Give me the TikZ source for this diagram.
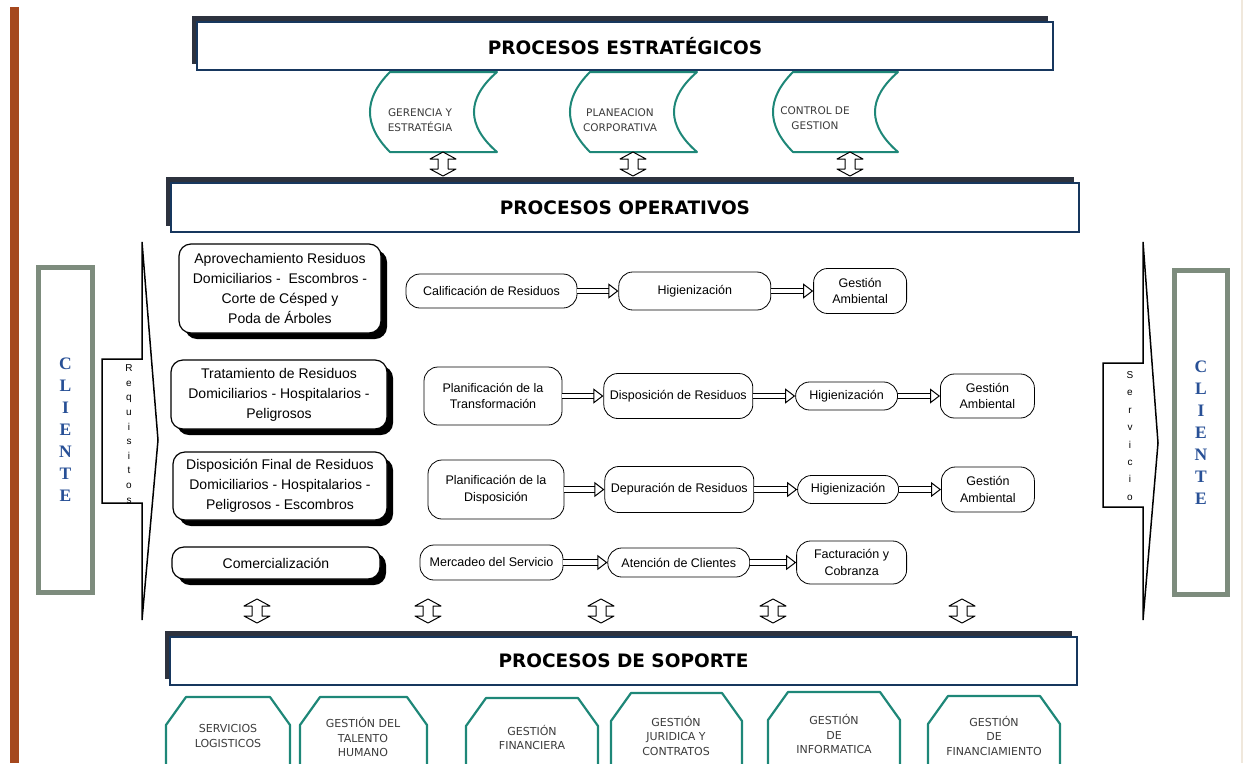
\documentclass[tikz,border=0pt]{standalone}
\usepackage{fontspec}
\setmainfont{Liberation Sans}
\newfontfamily\hdrfont{DejaVu Sans}
\newfontfamily\clifont{Liberation Serif}
\usepackage{tikz}
\usetikzlibrary{arrows.meta, positioning, shadows}
\definecolor{Rust}{RGB}{165,72,30}
\definecolor{Navy}{RGB}{23,55,94}
\definecolor{NavyShade}{RGB}{45,50,62}
\definecolor{Teal}{RGB}{30,135,120}
\definecolor{Sage}{RGB}{125,140,125}
\definecolor{CliBlue}{RGB}{40,80,150}
\definecolor{DarkText}{RGB}{60,60,60}
\definecolor{PageEdge}{RGB}{240,232,220}
\tikzset{%
  header_block/.style={%
    rectangle,%
    draw=Navy,%
    line width=1.6pt,%
    fill=white,%
    drop shadow={shadow xshift=-5pt, shadow yshift=6pt, fill=NavyShade, opacity=1},%
    font={\hdrfont\bfseries\fontsize{18.5}{21}\selectfont},%
  },
  lead_block/.style={%
    rectangle,%
    rounded corners=12pt,%
    draw=black,%
    line width=1.2pt,%
    fill=white,%
    drop shadow={shadow xshift=6pt, shadow yshift=-6pt, fill=black, opacity=1},%
    inner sep=2pt,%
    font={\fontsize{14}{20}\selectfont},%
    align=center,%
  },
  step_block/.style={%
    rectangle,%
    rounded corners=14pt,%
    draw=black,%
    line width=0.8pt,%
    fill=white,%
    inner sep=2pt,%
    font={\fontsize{12.5}{16.5}\selectfont},%
    align=center,%
  },
  flow_arrow/.style={%
    draw=black,%
    line width=1pt,%
    double=white,%
    double distance=4.2pt,%
    -{Triangle[open, length=10pt, width=15pt, line width=1pt]},%
  },
  strat_shape/.style={%
    draw=Teal,%
    line width=2pt,%
    fill=white,%
    line join=round,%
  },
  strat_text/.style={%
    text=DarkText,%
    font={\hdrfont\fontsize{10.5}{15}\selectfont},%
    align=center,%
  },
  sup_shape/.style={%
    draw=Teal,%
    line width=2.2pt,%
    line join=round,%
  },
  sup_text/.style={%
    text=DarkText,%
    font={\hdrfont\fontsize{11}{14.5}\selectfont},%
    align=center,%
  },
  client_frame/.style={%
    rectangle,%
    draw=Sage,%
    line width=5pt,%
    text=CliBlue,%
    font={\clifont\bfseries\fontsize{17.5}{22}\selectfont},%
    align=center,%
  },
  side_arrow/.style={%
    draw=black,%
    line width=1.5pt,%
    line join=miter,%
  },
  side_text/.style={%
    font={\fontsize{10}{14.6}\selectfont},%
    align=center,%
    inner sep=0pt,%
  },
  pics/updown/.style={%
    code={%
      \draw[line width=1pt, fill=white, line join=round]
        (0,-12) -- (13,-5) -- (5,-5) -- (5,5) -- (13,5) -- (0,12)
        -- (-13,5) -- (-5,5) -- (-5,-5) -- (-13,-5) -- cycle;
    }
  },
}

\begin{document}
\begin{tikzpicture}[x=1pt, y=-1pt]
    \useasboundingbox (0,0) rectangle (1246,763);
    \clip (0,0) rectangle (1246,763);

    % page edges
    \fill [Rust] (10,7) rectangle (19,763);
    \draw [PageEdge, line width=1.5pt] (1242,0) -- (1242,763);

    % headers
    \node [header_block, minimum width=856pt, minimum height=48pt] (Estrat) at (625,46) {PROCESOS ESTRATÉGICOS};
    \node [header_block, minimum width=908pt, minimum height=49pt] (Operat) at (625,207.5) {PROCESOS OPERATIVOS};
    \node [header_block, minimum width=907pt, minimum height=48pt] (Soporte) at (623.5,661) {PROCESOS DE SOPORTE};

    % strategic processes
    \draw [strat_shape]
      (390,72) -- (497,72)
      .. controls (466.3,98.7) and (466.3,125.3) .. (497,152)
      -- (390,152)
      .. controls (363.3,125.3) and (363.3,98.7) .. (390,72)
      -- cycle;
    \draw [strat_shape]
      (590,72) -- (697,72)
      .. controls (666.3,98.7) and (666.3,125.3) .. (697,152)
      -- (590,152)
      .. controls (563.3,125.3) and (563.3,98.7) .. (590,72)
      -- cycle;
    \draw [strat_shape]
      (793,72) -- (898,72)
      .. controls (867.3,98.7) and (867.3,125.3) .. (898,152)
      -- (793,152)
      .. controls (766.3,125.3) and (766.3,98.7) .. (793,72)
      -- cycle;
    \node [strat_text] (Gerencia) at (420,120) {GERENCIA Y\\ESTRATÉGIA};
    \node [strat_text] (Planeacion) at (620,120) {PLANEACION\\CORPORATIVA};
    \node [strat_text] (Control) at (815,118) {CONTROL DE\\GESTION};

    \pic at (443,164) {updown};
    \pic at (633,164) {updown};
    \pic at (850,164) {updown};

    % clients
    \node [client_frame, minimum width=54pt, minimum height=325pt] (ClienteIn) at (65.5,430) {C\\L\\I\\E\\N\\T\\E};
    \node [client_frame, minimum width=53pt, minimum height=324pt] (ClienteOut) at (1201,432.5) {C\\L\\I\\E\\N\\T\\E};

    \draw [side_arrow]
      (142,242) -- (142,359) -- (102,359) -- (102,503) -- (142,503)
      -- (142,620) -- (158,440) -- cycle;
    \node [side_text] (Requisitos) at (129,434) {R\\e\\q\\u\\i\\s\\i\\t\\o\\s};
    \draw [side_arrow]
      (1143,242) -- (1143,363) -- (1103,363) -- (1103,507) -- (1143,507)
      -- (1143,620) -- (1158,443) -- cycle;
    \node [side_text, font={\fontsize{10}{17.4}\selectfont}] (Servicio) at (1130,436) {S\\e\\r\\v\\i\\c\\i\\o};

    % operative processes
    \node [lead_block, minimum width=202pt, minimum height=89pt] (Aprov) at (280,288.5)
      {Aprovechamiento Residuos\\Domiciliarios -\ \ Escombros -\\Corte de Césped y\\Poda de Árboles};
    \node [lead_block, minimum width=216pt, minimum height=69pt] (Tratam) at (279,394.5)
      {Tratamiento de Residuos\\Domiciliarios - Hospitalarios -\\Peligrosos};
    \node [lead_block, minimum width=214pt, minimum height=68pt] (DispFinal) at (280,486)
      {Disposición Final de Residuos\\Domiciliarios - Hospitalarios -\\Peligrosos - Escombros};
    \node [lead_block, minimum width=208pt, minimum height=32pt] (Comerc) at (276,563)
      {Comercialización};

    \node [step_block, minimum width=171pt, minimum height=34pt] (Calif1) at (491.5,291) {Calificación de Residuos};
    \node [step_block, minimum width=152pt, minimum height=38pt, right=41pt of Calif1] (Higien1) {Higienización};
    \node [step_block, minimum width=93pt, minimum height=45pt, right=42pt of Higien1] (Ambient1) {Gestión\\Ambiental};

    \node [step_block, minimum width=138pt, minimum height=58pt] (PlanTrans) at (493,396) {Planificación de la\\Transformación};
    \node [step_block, minimum width=149pt, minimum height=45pt, right=41pt of PlanTrans] (DispRes) {Disposición de Residuos};
    \node [step_block, minimum width=102pt, minimum height=28pt, right=42pt of DispRes] (Higien2) {Higienización};
    \node [step_block, minimum width=94pt, minimum height=44pt, right=42pt of Higien2] (Ambient2) {Gestión\\Ambiental};

    \node [step_block, minimum width=136pt, minimum height=59pt] (PlanDisp) at (496,489.5) {Planificación de la\\Disposición};
    \node [step_block, minimum width=149pt, minimum height=46pt, right=40pt of PlanDisp] (Depur) {Depuración de Residuos};
    \node [step_block, minimum width=101pt, minimum height=28pt, right=43pt of Depur] (Higien3) {Higienización};
    \node [step_block, minimum width=93pt, minimum height=45pt, right=42pt of Higien3] (Ambient3) {Gestión\\Ambiental};

    \node [step_block, minimum width=143pt, minimum height=35pt] (Mercadeo) at (491.5,562.5) {Mercadeo del Servicio};
    \node [step_block, minimum width=142pt, minimum height=29pt, right=44pt of Mercadeo] (Atencion) {Atención de Clientes};
    \node [step_block, minimum width=110pt, minimum height=43pt, right=46pt of Atencion] (Factur) {Facturación y\\Cobranza};

    \draw [flow_arrow] (Calif1.east) -- (Higien1.west);
    \draw [flow_arrow] (Higien1.east) -- (Ambient1.west);
    \draw [flow_arrow] (PlanTrans.east) -- (DispRes.west);
    \draw [flow_arrow] (DispRes.east) -- (Higien2.west);
    \draw [flow_arrow] (Higien2.east) -- (Ambient2.west);
    \draw [flow_arrow] (PlanDisp.east) -- (Depur.west);
    \draw [flow_arrow] (Depur.east) -- (Higien3.west);
    \draw [flow_arrow] (Higien3.east) -- (Ambient3.west);
    \draw [flow_arrow] (Mercadeo.east) -- (Atencion.west);
    \draw [flow_arrow] (Atencion.east) -- (Factur.west);

    \pic at (257,611) {updown};
    \pic at (428,611) {updown};
    \pic at (601,611) {updown};
    \pic at (773,611) {updown};
    \pic at (962,611) {updown};

    % support processes
    \draw [sup_shape] (166,775) -- (166,725) -- (186,697) -- (270,697) -- (290,725) -- (290,775);
    \draw [sup_shape] (300,775) -- (300,725) -- (320,697) -- (407,697) -- (427,725) -- (427,775);
    \draw [sup_shape] (466,775) -- (466,726) -- (486,698) -- (578,698) -- (598,726) -- (598,775);
    \draw [sup_shape] (611,775) -- (611,721) -- (631,693) -- (722,693) -- (742,721) -- (742,775);
    \draw [sup_shape] (768,775) -- (768,720) -- (788,692) -- (880,692) -- (900,720) -- (900,775);
    \draw [sup_shape] (928,775) -- (928,724) -- (948,696) -- (1040,696) -- (1060,724) -- (1060,775);
    \node [sup_text] (Logist) at (228,736) {SERVICIOS\\LOGISTICOS};
    \node [sup_text] (Talento) at (363,737) {GESTIÓN DEL\\TALENTO\\HUMANO};
    \node [sup_text] (Financ) at (532,737.5) {GESTIÓN\\FINANCIERA};
    \node [sup_text] (Juridica) at (676,735.5) {GESTIÓN\\JURIDICA Y\\CONTRATOS};
    \node [sup_text] (Informat) at (834,734) {GESTIÓN\\DE\\INFORMATICA};
    \node [sup_text] (Financiam) at (994,735.5) {GESTIÓN\\DE\\FINANCIAMIENTO};
\end{tikzpicture}
\end{document}
